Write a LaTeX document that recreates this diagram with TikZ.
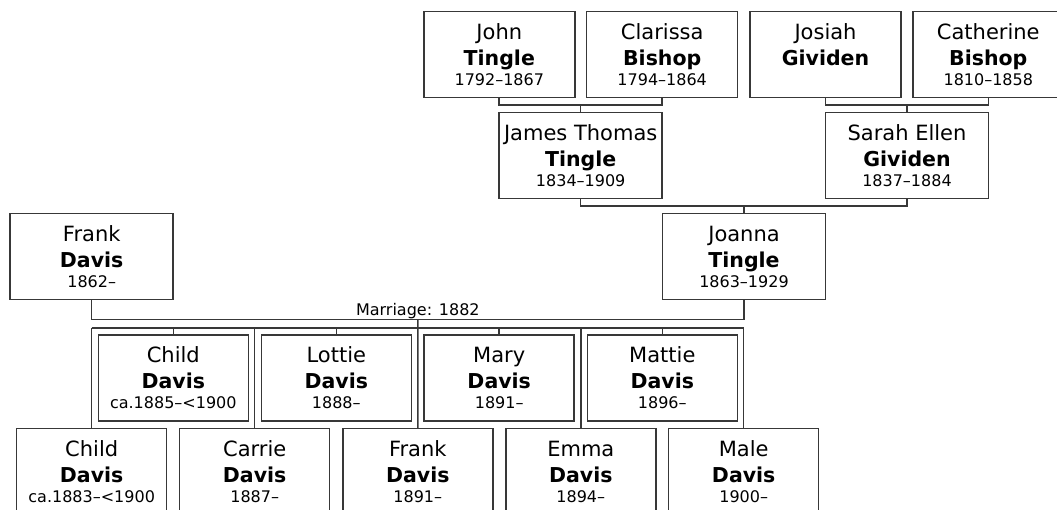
\documentclass[tikz,border=0pt]{standalone}
\usepackage{fontspec}
\setmainfont{DejaVu Sans}
\usepackage{tikz}
\usetikzlibrary{positioning, calc}

\definecolor{linegray}{HTML}{383838}
\newcommand{\yrs}{\fontsize{16}{20}\selectfont}
\newcommand{\pers}[3]{#1\\{\fontsize{20.5}{26}\selectfont\bfseries #2}\\[-6pt]{\yrs #3}}

\begin{document}
\begin{tikzpicture}[x=1pt, y=-1pt,
  person/.style={draw=linegray, line width=1.5pt, minimum height=86pt, inner sep=0pt,
    outer sep=0pt, align=center, font=\fontsize{21}{26}\selectfont},
  grandbox/.style={person, minimum width=151pt},
  parentbox/.style={person, minimum width=163pt},
  childbox/.style={person, minimum width=150pt},
  link/.style={draw=linegray, line width=1.5pt},
  marlbl/.style={font=\yrs, inner sep=0pt},
]
\clip (0,0) rectangle (1057,510);

% ===== Grandparents (top) =====
\node[grandbox] (john) at (499.3,54.5) {\pers{John}{Tingle}{1792--1867}};
\node[grandbox] (clarissa) at (662.2,54.5) {\pers{Clarissa}{Bishop}{1794--1864}};
\node[grandbox] (josiah) at (825.5,54.5) {\pers{Josiah}{Gividen}{}};
\node[grandbox] (catherine) at (988.3,54.5) {\pers{Catherine}{Bishop}{1810--1858}};

% ===== Parents =====
\node[parentbox] (james) at (580.7,155.5) {\pers{James Thomas}{Tingle}{1834--1909}};
\node[parentbox] (sarah) at (907,155.5) {\pers{Sarah Ellen}{Gividen}{1837--1884}};

% ===== Couple =====
\node[parentbox] (frank) at (91.7,256.5) {\pers{Frank}{Davis}{1862--}};
\node[parentbox] (joanna) at (744,256.5) {\pers{Joanna}{Tingle}{1863--1929}};

% ===== Children (two staggered rows) =====
\node[childbox] (childa) at (173.3,378) {\pers{Child}{Davis}{ca.1885--<1900}};
\node[childbox] (lottie) at (336.3,378) {\pers{Lottie}{Davis}{1888--}};
\node[childbox] (mary) at (499.2,378) {\pers{Mary}{Davis}{1891--}};
\node[childbox] (mattie) at (662.3,378) {\pers{Mattie}{Davis}{1896--}};

\node[childbox] (childb) at (91.7,471.7) {\pers{Child}{Davis}{ca.1883--<1900}};
\node[childbox] (carrie) at (254.7,471.7) {\pers{Carrie}{Davis}{1887--}};
\node[childbox] (frankjr) at (417.8,471.7) {\pers{Frank}{Davis}{1891--}};
\node[childbox] (emma) at (580.8,471.7) {\pers{Emma}{Davis}{1894--}};
\node[childbox] (male) at (743.7,471.7) {\pers{Male}{Davis}{1900--}};

% ===== Parent brackets =====
\coordinate (jt) at ($(john.south)!0.5!(james.north)$);
\draw[link] (john.south -| james.west) |- (jt -| james.east) -- (clarissa.south -| james.east);
\draw[link] (jt -| james.north) -- (james.north);

\coordinate (sg) at ($(josiah.south)!0.5!(sarah.north)$);
\draw[link] (josiah.south -| sarah.west) |- (sg -| sarah.east) -- (catherine.south -| sarah.east);
\draw[link] (sg -| sarah.north) -- (sarah.north);

\coordinate (js) at ($(james.south)!0.5!(joanna.north)$);
\draw[link] (james.south) |- (js -| sarah.south) -- (sarah.south);
\draw[link] (js -| joanna.north) -- (joanna.north);

% ===== Marriage line =====
\coordinate (mar) at ($(frank.south)!0.5!(joanna.south)+(0,20)$);
\draw[link] (frank.south) |- (mar -| joanna.south) -- (joanna.south);
\node[marlbl, above=0pt of mar] (marriage) {Marriage: 1882};

% ===== Children line =====
\coordinate (kids) at ($(mar)+(0,8.4)$);
\draw[link] (mar) -- (frankjr.north);
\draw[link] (kids -| childb.north) -- (kids -| male.north);
\draw[link] (kids -| childb.north) -- (childb.north);
\draw[link] (kids -| childa.north) -- (childa.north);
\draw[link] (kids -| carrie.north) -- (carrie.north);
\draw[link] (kids -| lottie.north) -- (lottie.north);
\draw[link] (kids -| mary.north) -- (mary.north);
\draw[link] (kids -| emma.north) -- (emma.north);
\draw[link] (kids -| mattie.north) -- (mattie.north);
\draw[link] (kids -| male.north) -- (male.north);

\end{tikzpicture}
\end{document}
